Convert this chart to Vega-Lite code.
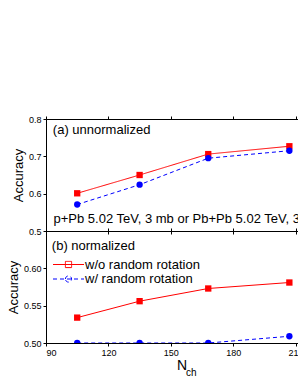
{
  "$schema": "https://vega.github.io/schema/vega-lite/v6.json",
  "padding": {"left": 6, "top": 114, "right": 0, "bottom": 0},
  "background": "white",
  "config": {
    "font": "Liberation Sans",
    "view": {"stroke": "black", "strokeWidth": 1},
    "axis": {
      "domainColor": "black", "tickColor": "black", "labelColor": "black", "titleColor": "black",
      "labelFont": "Liberation Sans", "titleFont": "Liberation Sans",
      "labelFontSize": 9, "titleFontSize": 13, "titleFontWeight": "normal",
      "grid": false, "tickSize": 3, "labelPadding": 2
    },
    "text": {"font": "Liberation Sans", "color": "black"}
  },
  "datasets": {
    "top": [
      {"series": "w/o random rotation", "nch": 105, "acc": 0.601},
      {"series": "w/o random rotation", "nch": 135, "acc": 0.650},
      {"series": "w/o random rotation", "nch": 168, "acc": 0.706},
      {"series": "w/o random rotation", "nch": 207, "acc": 0.727},
      {"series": "w/ random rotation", "nch": 105, "acc": 0.571},
      {"series": "w/ random rotation", "nch": 135, "acc": 0.624},
      {"series": "w/ random rotation", "nch": 168, "acc": 0.695},
      {"series": "w/ random rotation", "nch": 207, "acc": 0.715}
    ],
    "bottom": [
      {"series": "w/o random rotation", "nch": 105, "acc": 0.534},
      {"series": "w/o random rotation", "nch": 135, "acc": 0.556},
      {"series": "w/o random rotation", "nch": 168, "acc": 0.573},
      {"series": "w/o random rotation", "nch": 207, "acc": 0.581},
      {"series": "w/ random rotation", "nch": 105, "acc": 0.500},
      {"series": "w/ random rotation", "nch": 135, "acc": 0.500},
      {"series": "w/ random rotation", "nch": 168, "acc": 0.500},
      {"series": "w/ random rotation", "nch": 207, "acc": 0.509}
    ]
  },
  "spacing": 0,
  "bounds": "flush",
  "vconcat": [
    {
      "width": 260, "height": 112,
      "layer": [
        {
          "data": {"name": "top"},
          "mark": {"type": "line", "strokeWidth": 1},
          "encoding": {
            "x": {"field": "nch", "type": "quantitative", "scale": {"domain": [90, 215], "nice": false},
                  "axis": {"values": [90, 120, 150, 180, 210], "labels": false, "title": null}},
            "y": {"field": "acc", "type": "quantitative", "scale": {"domain": [0.5, 0.8], "nice": false, "zero": false},
                  "axis": {"values": [0.5, 0.6, 0.7, 0.8], "format": ".1f", "title": "Accuracy", "titlePadding": 3}},
            "stroke": {"field": "series", "type": "nominal",
                      "scale": {"domain": ["w/o random rotation", "w/ random rotation"], "range": ["#ff0000", "#0000ff"]}, "legend": null},
            "strokeDash": {"field": "series", "type": "nominal",
                      "scale": {"domain": ["w/o random rotation", "w/ random rotation"], "range": [[1, 0], [4, 3]]}, "legend": null}
          }
        },
        {
          "data": {"name": "top"},
          "mark": {"type": "point", "filled": true, "opacity": 1, "size": 40},
          "encoding": {
            "x": {"field": "nch", "type": "quantitative", "axis": null},
            "y": {"field": "acc", "type": "quantitative", "axis": null},
            "fill": {"field": "series", "type": "nominal",
                     "scale": {"domain": ["w/o random rotation", "w/ random rotation"], "range": ["#ff0000", "#0000ff"]}, "legend": null},
            "shape": {"field": "series", "type": "nominal",
                      "scale": {"domain": ["w/o random rotation", "w/ random rotation"], "range": ["square", "circle"]}, "legend": null}
          }
        },
        {
          "data": {"values": [{"label": "(a) unnormalized"}]},
          "mark": {"type": "text", "align": "left", "baseline": "middle", "fontSize": 13},
          "encoding": {
            "x": {"datum": 93.3, "type": "quantitative",
                  "axis": {"orient": "top", "values": [90, 120, 150, 180, 210], "labels": false, "title": null, "domain": false}},
            "y": {"datum": 0.7705, "type": "quantitative", "axis": null},
            "text": {"field": "label"}
          }
        },
        {
          "data": {"values": [{"label": "p+Pb 5.02 TeV, 3 mb or Pb+Pb 5.02 TeV, 3"}]},
          "mark": {"type": "text", "align": "left", "baseline": "middle", "fontSize": 13},
          "encoding": {
            "x": {"datum": 93.6, "type": "quantitative", "axis": null},
            "y": {"datum": 0.532, "type": "quantitative", "axis": null},
            "text": {"field": "label"}
          }
        }
      ],
      "resolve": {"axis": {"x": "independent", "y": "independent"}}
    },
    {
      "width": 260, "height": 112,
      "layer": [
        {
          "data": {"name": "bottom"},
          "transform": [{"filter": "datum.series == 'w/o random rotation'"}],
          "mark": {"type": "line", "strokeWidth": 1, "clip": true, "color": "#ff0000"},
          "encoding": {
            "x": {"field": "nch", "type": "quantitative", "scale": {"domain": [90, 215], "nice": false},
                  "axis": {"values": [90, 120, 150, 180, 210], "title": "N", "titleFontSize": 14, "titleX": 135.5, "titlePadding": 1}},
            "y": {"field": "acc", "type": "quantitative", "scale": {"domain": [0.5, 0.65], "nice": false, "zero": false},
                  "axis": {"values": [0.5, 0.55, 0.6], "format": ".2f", "title": "Accuracy", "titlePadding": 3}}
          }
        },
        {
          "data": {"name": "bottom"},
          "transform": [{"filter": "datum.series == 'w/ random rotation'"}],
          "mark": {"type": "line", "strokeWidth": 1, "clip": true, "color": "#0000ff", "strokeDash": [4, 3]},
          "encoding": {
            "x": {"field": "nch", "type": "quantitative", "axis": null},
            "y": {"field": "acc", "type": "quantitative", "axis": null}
          }
        },
        {
          "data": {"name": "bottom"},
          "transform": [{"filter": "datum.series == 'w/o random rotation'"}],
          "mark": {"type": "point", "filled": true, "opacity": 1, "size": 40, "clip": true, "shape": "square", "color": "#ff0000"},
          "encoding": {
            "x": {"field": "nch", "type": "quantitative", "axis": null},
            "y": {"field": "acc", "type": "quantitative", "axis": null}
          }
        },
        {
          "data": {"name": "bottom"},
          "transform": [{"filter": "datum.series == 'w/ random rotation'"}],
          "mark": {"type": "point", "filled": true, "opacity": 1, "size": 40, "clip": true, "shape": "circle", "color": "#0000ff"},
          "encoding": {
            "x": {"field": "nch", "type": "quantitative", "axis": null},
            "y": {"field": "acc", "type": "quantitative", "axis": null}
          }
        },
        {
          "data": {"name": "bottom"},
          "mark": {"type": "point", "filled": true, "opacity": 0, "size": 100, "strokeWidth": 1},
          "encoding": {
            "x": {"field": "nch", "type": "quantitative", "axis": null},
            "y": {"field": "acc", "type": "quantitative", "axis": null},
            "fill": {"field": "series", "type": "nominal",
                     "scale": {"domain": ["w/o random rotation", "w/ random rotation"], "range": ["#ff0000", "#0000ff"]},
                     "legend": {
                        "title": null, "orient": "none", "legendX": 16, "legendY": 27,
                        "padding": 0, "symbolSize": 100, "labelOffset": 10, "rowPadding": 0.5,
                        "labelFont": "Liberation Sans", "labelFontSize": 13, "labelColor": "black", "labelLimit": 300,
                        "symbolStrokeWidth": 1, "symbolOpacity": 1
                      }},
            "stroke": {"field": "series", "type": "nominal",
                       "scale": {"domain": ["w/o random rotation", "w/ random rotation"], "range": ["#ff0000", "#0000ff"]}},
            "shape": {"field": "series", "type": "nominal",
                      "scale": {"domain": ["w/o random rotation", "w/ random rotation"],
                                "range": ["M-3.1,0H3.1M-0.62,-0.62H0.62V0.62H-0.62Z", "M-3.1,0H3.1M-0.62,0A0.62,0.62 0 1 1 0.62,0A0.62,0.62 0 1 1 -0.62,0Z"]}},
            "strokeDash": {"field": "series", "type": "nominal",
                           "scale": {"domain": ["w/o random rotation", "w/ random rotation"], "range": [[1, 0], [4, 3]]}}
          }
        },
        {
          "data": {"values": [{"label": "(b) normalized"}]},
          "mark": {"type": "text", "align": "left", "baseline": "middle", "fontSize": 13},
          "encoding": {
            "x": {"datum": 92.8, "type": "quantitative",
                  "axis": {"orient": "top", "values": [90, 120, 150, 180, 210], "labels": false, "title": null, "domain": false}},
            "y": {"datum": 0.6305, "type": "quantitative", "axis": null},
            "text": {"field": "label"}
          }
        },
        {
          "data": {"values": [{"label": "ch"}]},
          "mark": {"type": "text", "align": "left", "baseline": "alphabetic", "fontSize": 10},
          "encoding": {
            "x": {"datum": 157.3, "type": "quantitative", "axis": null},
            "y": {"datum": 0.4552, "type": "quantitative", "axis": null},
            "text": {"field": "label"}
          }
        }
      ],
      "resolve": {"axis": {"x": "independent", "y": "independent"}}
    }
  ],
  "resolve": {"scale": {"fill": "independent", "stroke": "independent", "shape": "independent", "strokeDash": "independent", "x": "independent", "y": "independent"},
              "legend": {"fill": "independent", "stroke": "independent", "shape": "independent", "strokeDash": "independent"}}
}
